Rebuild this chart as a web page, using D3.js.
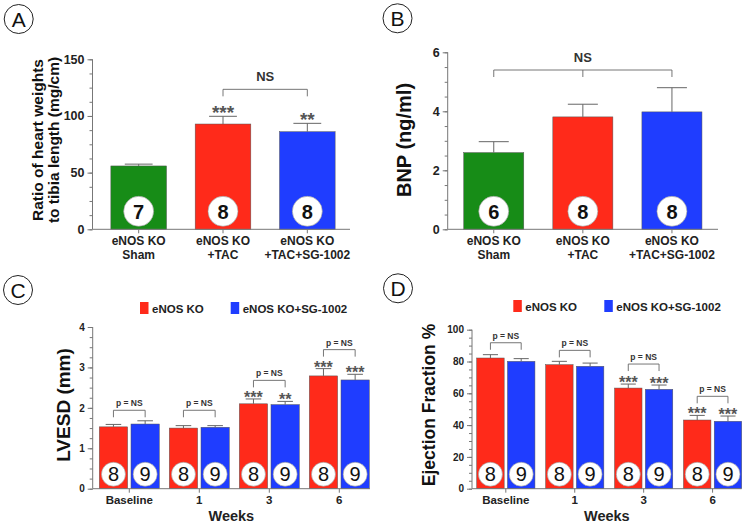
<!DOCTYPE html>
<html>
<head>
<meta charset="utf-8">
<script src="https://cdn.jsdelivr.net/npm/d3@7"></script>
<style>
  body { margin: 0; background: #fff; }
  text { font-family: "Liberation Sans", Arial, sans-serif; }
</style>
</head>
<body>
<svg id="chart" width="750" height="524"></svg>
<script>
// ---- data ----
const groupLines = [["eNOS KO", "Sham"], ["eNOS KO", "+TAC"], ["eNOS KO", "+TAC+SG-1002"]];
const groupKeys = ["sham", "tac", "tacsg"];
const groupColors = ["#178c17", "#ff2a1a", "#1f3dff"];

const hwMean = [55.9, 92.9, 86.1];
const hwErr = [57.5, 99.7, 93.5];
const hwN = [7, 8, 8];
const hwStars = ["", "***", "**"];

const bnpMean = [2.60, 3.81, 3.98];
const bnpErr = [2.97, 4.24, 4.80];
const bnpN = [6, 8, 8];

const weeks = ["Baseline", "1", "3", "6"];
const seriesNames = ["eNOS KO", "eNOS KO+SG-1002"];
const seriesColors = ["#ff2a1a", "#1f3dff"];
const seriesN = [8, 9];

const lvesdKO = [1.53, 1.50, 2.10, 2.79];
const lvesdKOErr = [1.59, 1.56, 2.22, 2.97];
const lvesdSG = [1.60, 1.52, 2.08, 2.69];
const lvesdSGErr = [1.68, 1.56, 2.16, 2.83];
const lvesdStarsKO = ["", "", "***", "***"];
const lvesdStarsSG = ["", "", "**", "***"];
const lvesdBracket = [1.94, 1.94, 2.68, 3.44];

const efKO = [82.2, 78.0, 63.3, 43.2];
const efKOErr = [84.3, 80.1, 65.8, 46.1];
const efSG = [80.1, 77.0, 62.5, 42.4];
const efSGErr = [81.8, 79.0, 65.2, 45.7];
const efStarsKO = ["", "", "***", "***"];
const efStarsSG = ["", "", "***", "***"];
const efBracket = [91.8, 87.0, 78.4, 58.1];

const svg = d3.select("#chart");
const axisCol = "#777";
const errCol = "#666";

function panelLetter(cx, cy, letter) {
  svg.append("circle").attr("cx", cx).attr("cy", cy).attr("r", 14.5)
    .attr("fill", "none").attr("stroke", "#222").attr("stroke-width", 1);
  svg.append("text").attr("x", cx).attr("y", cy + 7.5).attr("text-anchor", "middle")
    .attr("font-size", 21).attr("fill", "#111").text(letter);
}

function yAxis(x0, y, major, minor, fs, lx) {
  const g = svg.append("g").attr("transform", `translate(${x0},0)`);
  g.append("g").call(d3.axisLeft(y).tickValues(minor).tickSize(3).tickFormat(""))
    .call(a => a.select(".domain").remove());
  g.append("g").call(d3.axisLeft(y).tickValues(major).tickSize(5).tickPadding(lx).tickFormat(d3.format("~g")))
    .call(a => a.select(".domain").remove());
  g.append("line").attr("y1", y.range()[0]).attr("y2", y.range()[1]);
  g.selectAll("line").attr("stroke", axisCol);
  g.selectAll("text").attr("font-size", fs).attr("font-weight", "bold")
    .attr("fill", "#222").attr("font-family", "Liberation Sans, Arial, sans-serif");
}

function xLine(x1, x2, yy, centers) {
  svg.append("line").attr("x1", x1).attr("x2", x2).attr("y1", yy).attr("y2", yy).attr("stroke", axisCol);
  svg.selectAll(null).data(centers).join("line")
    .attr("x1", d => d).attr("x2", d => d).attr("y1", yy).attr("y2", yy + 4).attr("stroke", axisCol);
}

function errBars(xs, ys, ye, capW) {
  xs.forEach((x, i) => {
    svg.append("line").attr("x1", x).attr("x2", x).attr("y1", ys[i]).attr("y2", ye[i]).attr("stroke", errCol);
    svg.append("line").attr("x1", x - capW / 2).attr("x2", x + capW / 2).attr("y1", ye[i]).attr("y2", ye[i]).attr("stroke", errCol);
  });
}

function nCircle(cx, cy, r, n, fs, bold) {
  svg.append("circle").attr("cx", cx).attr("cy", cy).attr("r", r).attr("fill", "#fff")
    .attr("stroke", "#999").attr("stroke-width", 0.6);
  svg.append("text").attr("x", cx).attr("y", cy + fs * 0.36).attr("text-anchor", "middle")
    .attr("font-size", fs).attr("font-weight", bold ? "bold" : "normal").attr("fill", "#111").text(n);
}

function stars(x, yy, s, fs) {
  if (!s) return;
  svg.append("text").attr("x", x).attr("y", yy).attr("text-anchor", "middle")
    .attr("font-size", fs).attr("font-weight", "bold").attr("fill", "#555").text(s);
}

function bracket(xs, yy, drop, label, fs) {
  svg.append("line").attr("x1", xs[0]).attr("x2", xs[xs.length - 1]).attr("y1", yy).attr("y2", yy)
    .attr("stroke", errCol).attr("stroke-width", 0.9);
  xs.forEach(x => svg.append("line").attr("x1", x).attr("x2", x).attr("y1", yy).attr("y2", yy + drop)
    .attr("stroke", errCol).attr("stroke-width", 0.9));
  svg.append("text").attr("x", (xs[0] + xs[xs.length - 1]) / 2).attr("y", yy - (fs > 10 ? 8 : 4))
    .attr("text-anchor", "middle").attr("font-size", fs).attr("font-weight", "bold").attr("fill", "#333").text(label);
}

function catLabels(x, baseY) {
  groupKeys.forEach((k, i) => {
    const t = svg.append("text").attr("text-anchor", "middle").attr("font-size", 12)
      .attr("font-weight", "bold").attr("fill", "#222");
    groupLines[i].forEach((ln, j) => {
      t.append("tspan").attr("x", x(k) + x.bandwidth() / 2).attr("y", baseY + j * 13.5).text(ln);
    });
  });
}

// ---------- Panel A ----------
panelLetter(18.7, 19, "A");
const yA = d3.scaleLinear().domain([0, 150]).range([229.3, 59.3]);
const xA = d3.scaleBand().domain(groupKeys).range([94, 352]).paddingInner(0.34).paddingOuter(0.2);
yAxis(92.5, yA, [0, 50, 100, 150], d3.range(0, 151, 12.5), 12.5, 3);
svg.selectAll(null).data(groupKeys).join("rect")
  .attr("x", d => xA(d)).attr("width", xA.bandwidth())
  .attr("y", (d, i) => yA(hwMean[i])).attr("height", (d, i) => yA(0) - yA(hwMean[i]))
  .attr("fill", (d, i) => groupColors[i]).attr("stroke", "#555").attr("stroke-width", 0.5);
const cA = groupKeys.map(k => xA(k) + xA.bandwidth() / 2);
xLine(92.5, 350, yA(0), cA);
errBars(cA, hwMean.map(v => yA(v)), hwErr.map(v => yA(v)), xA.bandwidth() / 2);
cA.forEach((x, i) => stars(x, yA(hwErr[i]) + 3, hwStars[i], 19));
bracket([cA[1], cA[2]], yA(123.5), 7, "NS", 13);
cA.forEach((x, i) => nCircle(x, yA(0) - 18, 15, hwN[i], 20, true));
catLabels(xA, 245);
svg.append("text").attr("transform", "translate(43,140) rotate(-90)").attr("text-anchor", "middle")
  .attr("font-size", 15.5).attr("font-weight", "bold").attr("fill", "#111")
  .selectAll("tspan").data(["Ratio of heart weights", "to tibia length (mg/cm)"]).join("tspan")
  .attr("x", 0).attr("dy", (d, i) => i ? 16 : 0).text(d => d);

// ---------- Panel B ----------
panelLetter(397.5, 18.3, "B");
const yB = d3.scaleLinear().domain([0, 6]).range([229.3, 52.3]);
const xB = d3.scaleBand().domain(groupKeys).range([447.7, 718]).paddingInner(0.326).paddingOuter(0.18);
yAxis(447.7, yB, [0, 2, 4, 6], d3.range(0, 6.01, 0.5), 12.5, 3);
svg.selectAll(null).data(groupKeys).join("rect")
  .attr("x", d => xB(d)).attr("width", xB.bandwidth())
  .attr("y", (d, i) => yB(bnpMean[i])).attr("height", (d, i) => yB(0) - yB(bnpMean[i]))
  .attr("fill", (d, i) => groupColors[i]).attr("stroke", "#555").attr("stroke-width", 0.5);
const cB = groupKeys.map(k => xB(k) + xB.bandwidth() / 2);
xLine(447.7, 718, yB(0), cB);
errBars(cB, bnpMean.map(v => yB(v)), bnpErr.map(v => yB(v)), xB.bandwidth() / 2);
bracket(cB, yB(5.4), 7, "NS", 13);
cB.forEach((x, i) => nCircle(x, yB(0) - 18, 15, bnpN[i], 20, true));
catLabels(xB, 245);
svg.append("text").attr("transform", "translate(411,140) rotate(-90)").attr("text-anchor", "middle")
  .attr("font-size", 20).attr("font-weight", "bold").attr("fill", "#111").text("BNP (ng/ml)");

// ---------- grouped panels C / D ----------
function groupedPanel(o) {
  panelLetter(o.letter[0], o.letter[1], o.letter[2]);
  const x0 = d3.scaleBand().domain(weeks).range(o.barRange).paddingInner(o.pad);
  const x1 = d3.scaleBand().domain([0, 1]).range([0, x0.bandwidth()]).paddingInner(0.107);
  yAxis(o.axisX, o.y, o.major, o.minor, o.tickFs, 3);
  const series = [[o.ko, o.koErr, o.koStars], [o.sg, o.sgErr, o.sgStars]];
  series.forEach((s, si) => {
    svg.selectAll(null).data(weeks).join("rect")
      .attr("x", d => x0(d) + x1(si)).attr("width", x1.bandwidth())
      .attr("y", (d, i) => o.y(s[0][i])).attr("height", (d, i) => o.y(0) - o.y(s[0][i]))
      .attr("fill", seriesColors[si]).attr("stroke", "#555").attr("stroke-width", 0.5);
    const cs = weeks.map(w => x0(w) + x1(si) + x1.bandwidth() / 2);
    errBars(cs, s[0].map(v => o.y(v)), s[1].map(v => o.y(v)), x1.bandwidth() * 0.55);
    cs.forEach((x, i) => stars(x, o.y(s[1][i]) + 4, s[2][i], 16));
    cs.forEach((x, i) => nCircle(x, o.y(0) - 14.5, 12, seriesN[si], 20, false));
  });
  const gc = weeks.map(w => x0(w) + x0.bandwidth() / 2);
  xLine(o.axisX, o.axisEnd, o.y(0), gc);
  weeks.forEach((w, i) => {
    bracket([x0(w) + x1(0) + x1.bandwidth() / 2, x0(w) + x1(1) + x1.bandwidth() / 2],
      o.y(o.bracket[i]), 7, "p = NS", 8.5);
    svg.append("text").attr("x", gc[i]).attr("y", o.y(0) + 15).attr("text-anchor", "middle")
      .attr("font-size", 11.5).attr("font-weight", "bold").attr("fill", "#222").text(w);
  });
  svg.append("text").attr("x", (o.axisX + o.axisEnd) / 2).attr("y", 521).attr("text-anchor", "middle")
    .attr("font-size", 14.5).attr("font-weight", "bold").attr("fill", "#222").text("Weeks");
  // legend
  seriesNames.forEach((nm, i) => {
    svg.append("rect").attr("x", o.legX[i]).attr("y", o.legY).attr("width", 8.5).attr("height", 12)
      .attr("fill", seriesColors[i]);
    svg.append("text").attr("x", o.legX[i] + 12).attr("y", o.legY + 10.5).attr("font-size", 11.5)
      .attr("font-weight", "bold").attr("fill", "#222").text(nm);
  });
  svg.append("text").attr("transform", `translate(${o.titleX},405) rotate(-90)`).attr("text-anchor", "middle")
    .attr("font-size", o.titleFs).attr("font-weight", "bold").attr("fill", "#111").text(o.title);
}

groupedPanel({
  letter: [18, 290, "C"],
  y: d3.scaleLinear().domain([0, 4]).range([488.7, 327]),
  barRange: [99.3, 369.3], pad: 0.143, axisX: 92.7, axisEnd: 370,
  major: [0, 1, 2, 3, 4], minor: d3.range(0, 4.01, 0.25), tickFs: 10,
  ko: lvesdKO, koErr: lvesdKOErr, koStars: lvesdStarsKO,
  sg: lvesdSG, sgErr: lvesdSGErr, sgStars: lvesdStarsSG,
  bracket: lvesdBracket,
  legX: [140, 230.7], legY: 302,
  title: "LVESD (mm)", titleX: 70, titleFs: 19
});

groupedPanel({
  letter: [398, 288.3, "D"],
  y: d3.scaleLinear().domain([0, 100]).range([488.7, 329.7]),
  barRange: [476.7, 741.7], pad: 0.155, axisX: 472, axisEnd: 741.7,
  major: [0, 20, 40, 60, 80, 100], minor: d3.range(0, 101, 5), tickFs: 10,
  ko: efKO, koErr: efKOErr, koStars: efStarsKO,
  sg: efSG, sgErr: efSGErr, sgStars: efStarsSG,
  bracket: efBracket,
  legX: [513.3, 604.3], legY: 300,
  title: "Ejection Fraction %", titleX: 435, titleFs: 17.5
});
</script>
</body>
</html>
